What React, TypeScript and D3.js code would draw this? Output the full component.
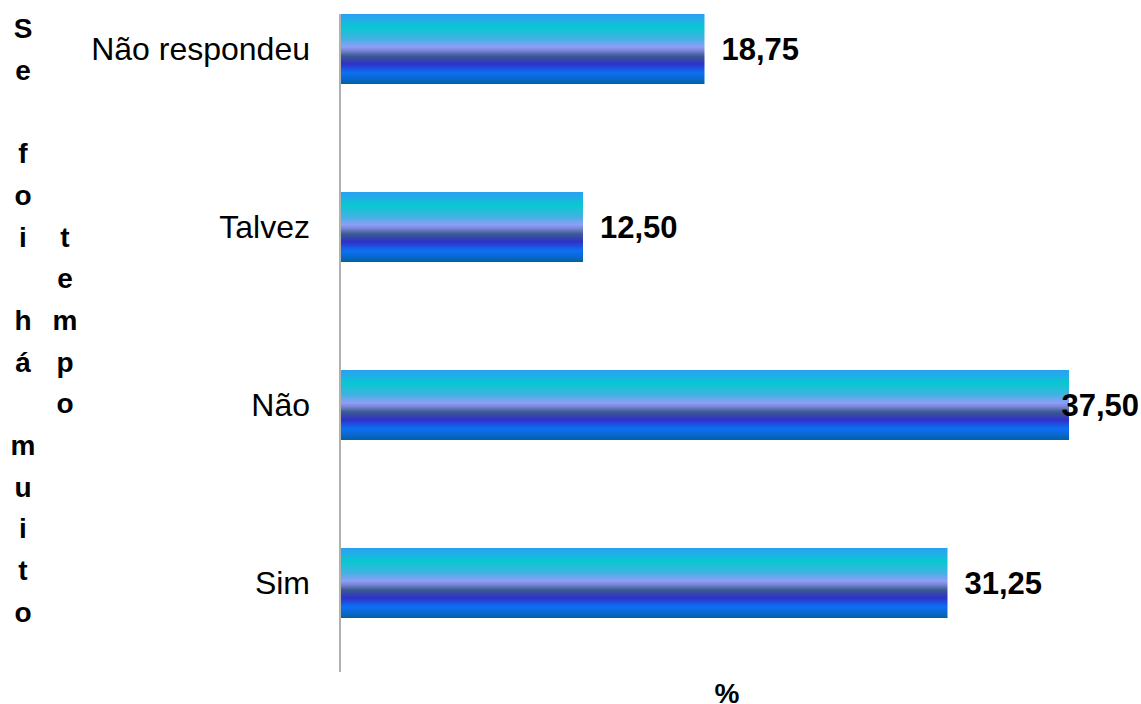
import React from "react";
import * as d3 from "d3";

const categories = ["Não respondeu", "Talvez", "Não", "Sim"];
const values = [18.75, 12.5, 37.5, 31.25];
const valueLabels = ["18,75", "12,50", "37,50", "31,25"];
const titleLeft = ["S", "e", "", "f", "o", "i", "", "h", "á", "", "m", "u", "i", "t", "o"];
const titleRight = ["t", "e", "m", "p", "o"];
const xLabel = "%";

const W = 1141;
const H = 704;

export default function App() {
  const x = d3.scaleLinear().domain([0, 37.5]).range([340, 1069]);
  const y = d3
    .scaleBand<string>()
    .domain(categories)
    .range([-40, 672])
    .paddingInner(108 / 178)
    .paddingOuter(54 / 178);
  const font = "Arial, 'Liberation Sans', sans-serif";
  const stops = [
    [0, "#2aa0f2"],
    [0.08, "#20aee8"],
    [0.19, "#08c8d0"],
    [0.35, "#40b2e2"],
    [0.47, "#8e9ef8"],
    [0.52, "#7a88d8"],
    [0.6, "#3a5a92"],
    [0.71, "#3030c8"],
    [0.84, "#0c70f4"],
    [0.92, "#0a68d0"],
    [1, "#0062a0"],
  ];
  return (
    <svg
      width={W}
      height={H}
      style={{ position: "absolute", left: 0, top: 0, background: "#fff" }}
    >
      <defs>
        <linearGradient id="barGrad" x1="0" y1="0" x2="0" y2="1">
          {stops.map(([o, c], i) => (
            <stop key={i} offset={o as number} stopColor={c as string} />
          ))}
        </linearGradient>
      </defs>
      {categories.map((c, i) => {
        const y0 = y(c)!;
        const bw = y.bandwidth();
        const xe = x(values[i]);
        const overflow = xe + 17 + 80 > W;
        return (
          <g key={c}>
            <rect x={x(0)} y={y0} width={xe - x(0)} height={bw} fill="url(#barGrad)" />
            <text
              x={310}
              y={y0 + bw / 2}
              dy="0.35em"
              textAnchor="end"
              fontFamily={font}
              fontSize={32}
              fill="#000"
            >
              {c}
            </text>
            <text
              x={overflow ? W - 2 : xe + 17}
              y={y0 + bw / 2}
              dy="0.35em"
              textAnchor={overflow ? "end" : "start"}
              fontFamily={font}
              fontSize={31}
              fontWeight="bold"
              fill="#000"
            >
              {valueLabels[i]}
            </text>
          </g>
        );
      })}
      <line x1={x(0)} x2={x(0)} y1={14} y2={672} stroke="#b0b0b0" strokeWidth={2} />
      {titleLeft.map((ch, i) => (
        <text
          key={"l" + i}
          x={23}
          y={38 + i * 41.7}
          textAnchor="middle"
          fontFamily={font}
          fontSize={28}
          fontWeight="bold"
        >
          {ch}
        </text>
      ))}
      {titleRight.map((ch, i) => (
        <text
          key={"r" + i}
          x={65}
          y={38 + (i + 5) * 41.7}
          textAnchor="middle"
          fontFamily={font}
          fontSize={28}
          fontWeight="bold"
        >
          {ch}
        </text>
      ))}
      <text
        x={727}
        y={703}
        textAnchor="middle"
        fontFamily={font}
        fontSize={28}
        fontWeight="bold"
      >
        {xLabel}
      </text>
    </svg>
  );
}
